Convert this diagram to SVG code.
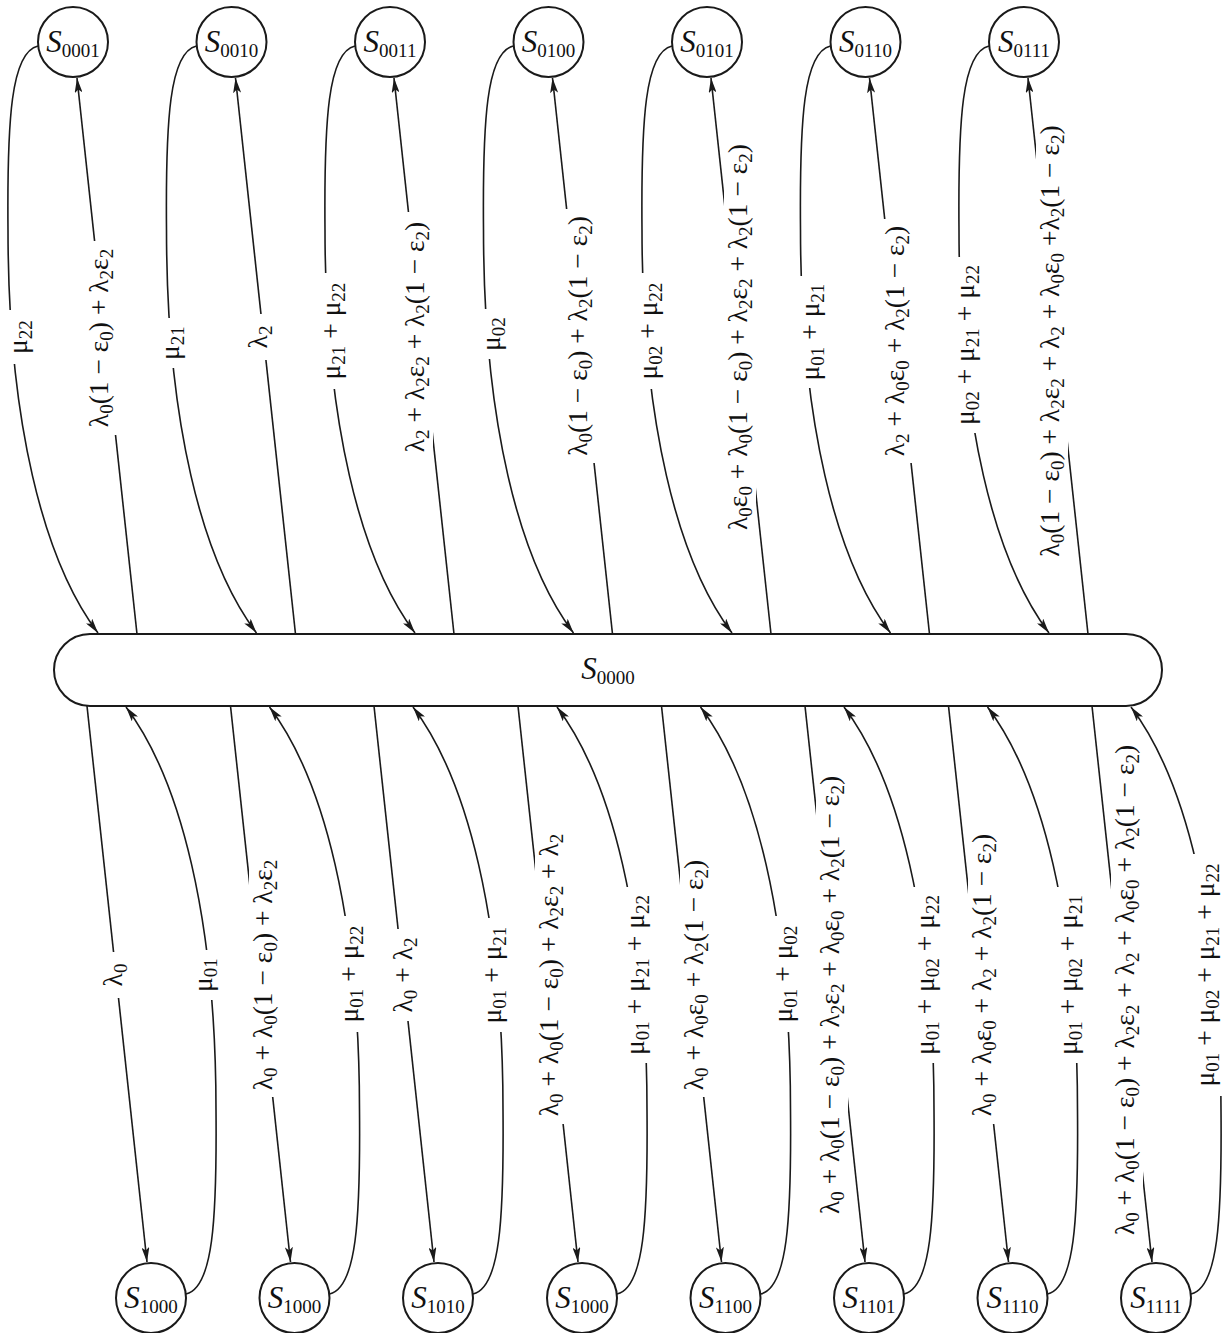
<svg xmlns="http://www.w3.org/2000/svg" width="1223" height="1333" viewBox="0 0 1223 1333">
<style>
.nd{fill:#fff;stroke:#1a1a1a;stroke-width:2}
.cn{fill:none;stroke:#1a1a1a;stroke-width:1.6;marker-end:url(#ah)}
.nl{font-family:"Liberation Serif",serif;font-style:italic;font-size:31px;fill:#111;text-anchor:middle}
.ns{font-style:normal;font-size:19px}
.lb{font-family:"Liberation Serif",serif;font-size:27.5px;fill:#111;text-anchor:middle}
.s{font-size:19px}
.bg{fill:#fff;stroke:none}
</style>
<defs>
<marker id="ah" viewBox="0 0 15 8" refX="15" refY="4" markerWidth="15" markerHeight="8" markerUnits="userSpaceOnUse" orient="auto">
<path d="M0,0 L15,4 L0,8 L3.5,4 z" fill="#1a1a1a"/>
</marker>
</defs>
<rect width="1223" height="1333" fill="#fff"/>
<g id="connectors">
<path class="cn" d="M38,46 C11,52 7,120 8,230 C8,420 43,560 98,633"/>
<path class="cn" d="M137,634 L77,78"/>
<path class="cn" d="M196.5,46 C169.5,52 165.5,120 166.5,230 C166.5,420 201.5,560 256.5,633"/>
<path class="cn" d="M295.5,634 L235.5,78"/>
<path class="cn" d="M355,46 C328,52 324,120 325,230 C325,420 360,560 415,633"/>
<path class="cn" d="M454,634 L394,78"/>
<path class="cn" d="M513.5,46 C486.5,52 482.5,120 483.5,230 C483.5,420 518.5,560 573.5,633"/>
<path class="cn" d="M612.5,634 L552.5,78"/>
<path class="cn" d="M672,46 C645,52 641,120 642,230 C642,420 677,560 732,633"/>
<path class="cn" d="M771,634 L711,78"/>
<path class="cn" d="M830.5,46 C803.5,52 799.5,120 800.5,230 C800.5,420 835.5,560 890.5,633"/>
<path class="cn" d="M929.5,634 L869.5,78"/>
<path class="cn" d="M989,46 C962,52 958,120 959,230 C959,420 994,560 1049,633"/>
<path class="cn" d="M1088,634 L1028,78"/>
<path class="cn" d="M87,706 L147,1262"/>
<path class="cn" d="M186,1294 C213,1288 217,1220 216,1110 C216,920 181,780 126,707"/>
<path class="cn" d="M230.5,706 L290.5,1262"/>
<path class="cn" d="M329.5,1294 C356.5,1288 360.5,1220 359.5,1110 C359.5,920 324.5,780 269.5,707"/>
<path class="cn" d="M374,706 L434,1262"/>
<path class="cn" d="M473,1294 C500,1288 504,1220 503,1110 C503,920 468,780 413,707"/>
<path class="cn" d="M518,706 L578,1262"/>
<path class="cn" d="M617,1294 C644,1288 648,1220 647,1110 C647,920 612,780 557,707"/>
<path class="cn" d="M661.5,706 L721.5,1262"/>
<path class="cn" d="M760.5,1294 C787.5,1288 791.5,1220 790.5,1110 C790.5,920 755.5,780 700.5,707"/>
<path class="cn" d="M805,706 L865,1262"/>
<path class="cn" d="M904,1294 C931,1288 935,1220 934,1110 C934,920 899,780 844,707"/>
<path class="cn" d="M948.5,706 L1008.5,1262"/>
<path class="cn" d="M1047.5,1294 C1074.5,1288 1078.5,1220 1077.5,1110 C1077.5,920 1042.5,780 987.5,707"/>
<path class="cn" d="M1092,706 L1152,1262"/>
<path class="cn" d="M1191,1294 C1218,1288 1222,1220 1221,1110 C1221,920 1186,780 1131,707"/>
</g>
<g id="edge-labels">
<g transform="translate(20,337) rotate(-90)"><rect class="bg" x="-27" y="-16" width="54" height="32"/><text class="lb" y="6.5">μ<tspan class="s" dy="5.5">22</tspan></text></g>
<g transform="translate(101,338) rotate(-90)"><rect class="bg" x="-97" y="-16" width="194" height="32"/><text class="lb" y="6.5">λ<tspan class="s" dy="5.5">0</tspan><tspan dy="-5.5">(1 − ε</tspan><tspan class="s" dy="5.5">0</tspan><tspan dy="-5.5">) + λ</tspan><tspan class="s" dy="5.5">2</tspan><tspan dy="-5.5">ε</tspan><tspan class="s" dy="5.5">2</tspan></text></g>
<g transform="translate(172,343) rotate(-90)"><rect class="bg" x="-25" y="-16" width="50" height="32"/><text class="lb" y="6.5">μ<tspan class="s" dy="5.5">21</tspan></text></g>
<g transform="translate(260,337) rotate(-90)"><rect class="bg" x="-23" y="-16" width="46" height="32"/><text class="lb" y="6.5">λ<tspan class="s" dy="5.5">2</tspan></text></g>
<g transform="translate(333,331) rotate(-90)"><rect class="bg" x="-58" y="-16" width="116" height="32"/><text class="lb" y="6.5">μ<tspan class="s" dy="5.5">21</tspan><tspan dy="-5.5"> + μ</tspan><tspan class="s" dy="5.5">22</tspan></text></g>
<g transform="translate(417,337) rotate(-90)"><rect class="bg" x="-125" y="-16" width="250" height="32"/><text class="lb" y="6.5">λ<tspan class="s" dy="5.5">2</tspan><tspan dy="-5.5"> + λ</tspan><tspan class="s" dy="5.5">2</tspan><tspan dy="-5.5">ε</tspan><tspan class="s" dy="5.5">2</tspan><tspan dy="-5.5"> + λ</tspan><tspan class="s" dy="5.5">2</tspan><tspan dy="-5.5">(1 − ε</tspan><tspan class="s" dy="5.5">2</tspan><tspan dy="-5.5">)</tspan></text></g>
<g transform="translate(493,334) rotate(-90)"><rect class="bg" x="-25" y="-16" width="50" height="32"/><text class="lb" y="6.5">μ<tspan class="s" dy="5.5">02</tspan></text></g>
<g transform="translate(580,336) rotate(-90)"><rect class="bg" x="-127" y="-16" width="254" height="32"/><text class="lb" y="6.5">λ<tspan class="s" dy="5.5">0</tspan><tspan dy="-5.5">(1 − ε</tspan><tspan class="s" dy="5.5">0</tspan><tspan dy="-5.5">) + λ</tspan><tspan class="s" dy="5.5">2</tspan><tspan dy="-5.5">(1 − ε</tspan><tspan class="s" dy="5.5">2</tspan><tspan dy="-5.5">)</tspan></text></g>
<g transform="translate(650,331) rotate(-90)"><rect class="bg" x="-58" y="-16" width="116" height="32"/><text class="lb" y="6.5">μ<tspan class="s" dy="5.5">02</tspan><tspan dy="-5.5"> + μ</tspan><tspan class="s" dy="5.5">22</tspan></text></g>
<g transform="translate(740,337) rotate(-90)"><rect class="bg" x="-198" y="-16" width="396" height="32"/><text class="lb" y="6.5">λ<tspan class="s" dy="5.5">0</tspan><tspan dy="-5.5">ε</tspan><tspan class="s" dy="5.5">0</tspan><tspan dy="-5.5"> + λ</tspan><tspan class="s" dy="5.5">0</tspan><tspan dy="-5.5">(1 − ε</tspan><tspan class="s" dy="5.5">0</tspan><tspan dy="-5.5">) + λ</tspan><tspan class="s" dy="5.5">2</tspan><tspan dy="-5.5">ε</tspan><tspan class="s" dy="5.5">2</tspan><tspan dy="-5.5"> + λ</tspan><tspan class="s" dy="5.5">2</tspan><tspan dy="-5.5">(1 − ε</tspan><tspan class="s" dy="5.5">2</tspan><tspan dy="-5.5">)</tspan></text></g>
<g transform="translate(812,332) rotate(-90)"><rect class="bg" x="-56" y="-16" width="112" height="32"/><text class="lb" y="6.5">μ<tspan class="s" dy="5.5">01</tspan><tspan dy="-5.5"> + μ</tspan><tspan class="s" dy="5.5">21</tspan></text></g>
<g transform="translate(897,341) rotate(-90)"><rect class="bg" x="-122" y="-16" width="244" height="32"/><text class="lb" y="6.5">λ<tspan class="s" dy="5.5">2</tspan><tspan dy="-5.5"> + λ</tspan><tspan class="s" dy="5.5">0</tspan><tspan dy="-5.5">ε</tspan><tspan class="s" dy="5.5">0</tspan><tspan dy="-5.5"> + λ</tspan><tspan class="s" dy="5.5">2</tspan><tspan dy="-5.5">(1 − ε</tspan><tspan class="s" dy="5.5">2</tspan><tspan dy="-5.5">)</tspan></text></g>
<g transform="translate(967,345) rotate(-90)"><rect class="bg" x="-88" y="-16" width="176" height="32"/><text class="lb" y="6.5">μ<tspan class="s" dy="5.5">02</tspan><tspan dy="-5.5"> + μ</tspan><tspan class="s" dy="5.5">21</tspan><tspan dy="-5.5"> + μ</tspan><tspan class="s" dy="5.5">22</tspan></text></g>
<g transform="translate(1052,341) rotate(-90)"><rect class="bg" x="-224" y="-16" width="448" height="32"/><text class="lb" y="6.5">λ<tspan class="s" dy="5.5">0</tspan><tspan dy="-5.5">(1 − ε</tspan><tspan class="s" dy="5.5">0</tspan><tspan dy="-5.5">) + λ</tspan><tspan class="s" dy="5.5">2</tspan><tspan dy="-5.5">ε</tspan><tspan class="s" dy="5.5">2</tspan><tspan dy="-5.5"> + λ</tspan><tspan class="s" dy="5.5">2</tspan><tspan dy="-5.5"> + λ</tspan><tspan class="s" dy="5.5">0</tspan><tspan dy="-5.5">ε</tspan><tspan class="s" dy="5.5">0</tspan><tspan dy="-5.5"> +λ</tspan><tspan class="s" dy="5.5">2</tspan><tspan dy="-5.5">(1 − ε</tspan><tspan class="s" dy="5.5">2</tspan><tspan dy="-5.5">)</tspan></text></g>
<g transform="translate(115,975) rotate(-90)"><rect class="bg" x="-23" y="-16" width="46" height="32"/><text class="lb" y="6.5">λ<tspan class="s" dy="5.5">0</tspan></text></g>
<g transform="translate(205,975) rotate(-90)"><rect class="bg" x="-25" y="-16" width="50" height="32"/><text class="lb" y="6.5">μ<tspan class="s" dy="5.5">01</tspan></text></g>
<g transform="translate(265,975) rotate(-90)"><rect class="bg" x="-122" y="-16" width="244" height="32"/><text class="lb" y="6.5">λ<tspan class="s" dy="5.5">0</tspan><tspan dy="-5.5"> + λ</tspan><tspan class="s" dy="5.5">0</tspan><tspan dy="-5.5">(1 − ε</tspan><tspan class="s" dy="5.5">0</tspan><tspan dy="-5.5">) + λ</tspan><tspan class="s" dy="5.5">2</tspan><tspan dy="-5.5">ε</tspan><tspan class="s" dy="5.5">2</tspan></text></g>
<g transform="translate(351,974) rotate(-90)"><rect class="bg" x="-58" y="-16" width="116" height="32"/><text class="lb" y="6.5">μ<tspan class="s" dy="5.5">01</tspan><tspan dy="-5.5"> + μ</tspan><tspan class="s" dy="5.5">22</tspan></text></g>
<g transform="translate(405,975) rotate(-90)"><rect class="bg" x="-46" y="-16" width="92" height="32"/><text class="lb" y="6.5">λ<tspan class="s" dy="5.5">0</tspan><tspan dy="-5.5"> + λ</tspan><tspan class="s" dy="5.5">2</tspan></text></g>
<g transform="translate(494,975) rotate(-90)"><rect class="bg" x="-57" y="-16" width="114" height="32"/><text class="lb" y="6.5">μ<tspan class="s" dy="5.5">01</tspan><tspan dy="-5.5"> + μ</tspan><tspan class="s" dy="5.5">21</tspan></text></g>
<g transform="translate(551,975) rotate(-90)"><rect class="bg" x="-149" y="-16" width="298" height="32"/><text class="lb" y="6.5">λ<tspan class="s" dy="5.5">0</tspan><tspan dy="-5.5"> + λ</tspan><tspan class="s" dy="5.5">0</tspan><tspan dy="-5.5">(1 − ε</tspan><tspan class="s" dy="5.5">0</tspan><tspan dy="-5.5">) + λ</tspan><tspan class="s" dy="5.5">2</tspan><tspan dy="-5.5">ε</tspan><tspan class="s" dy="5.5">2</tspan><tspan dy="-5.5"> + λ</tspan><tspan class="s" dy="5.5">2</tspan></text></g>
<g transform="translate(637,975) rotate(-90)"><rect class="bg" x="-88" y="-16" width="176" height="32"/><text class="lb" y="6.5">μ<tspan class="s" dy="5.5">01</tspan><tspan dy="-5.5"> + μ</tspan><tspan class="s" dy="5.5">21</tspan><tspan dy="-5.5"> + μ</tspan><tspan class="s" dy="5.5">22</tspan></text></g>
<g transform="translate(696,975) rotate(-90)"><rect class="bg" x="-122" y="-16" width="244" height="32"/><text class="lb" y="6.5">λ<tspan class="s" dy="5.5">0</tspan><tspan dy="-5.5"> + λ</tspan><tspan class="s" dy="5.5">0</tspan><tspan dy="-5.5">ε</tspan><tspan class="s" dy="5.5">0</tspan><tspan dy="-5.5"> + λ</tspan><tspan class="s" dy="5.5">2</tspan><tspan dy="-5.5">(1 − ε</tspan><tspan class="s" dy="5.5">2</tspan><tspan dy="-5.5">)</tspan></text></g>
<g transform="translate(785,974) rotate(-90)"><rect class="bg" x="-58" y="-16" width="116" height="32"/><text class="lb" y="6.5">μ<tspan class="s" dy="5.5">01</tspan><tspan dy="-5.5"> + μ</tspan><tspan class="s" dy="5.5">02</tspan></text></g>
<g transform="translate(832,995) rotate(-90)"><rect class="bg" x="-224" y="-16" width="448" height="32"/><text class="lb" y="6.5">λ<tspan class="s" dy="5.5">0</tspan><tspan dy="-5.5"> + λ</tspan><tspan class="s" dy="5.5">0</tspan><tspan dy="-5.5">(1 − ε</tspan><tspan class="s" dy="5.5">0</tspan><tspan dy="-5.5">) + λ</tspan><tspan class="s" dy="5.5">2</tspan><tspan dy="-5.5">ε</tspan><tspan class="s" dy="5.5">2</tspan><tspan dy="-5.5"> + λ</tspan><tspan class="s" dy="5.5">0</tspan><tspan dy="-5.5">ε</tspan><tspan class="s" dy="5.5">0</tspan><tspan dy="-5.5"> + λ</tspan><tspan class="s" dy="5.5">2</tspan><tspan dy="-5.5">(1 − ε</tspan><tspan class="s" dy="5.5">2</tspan><tspan dy="-5.5">)</tspan></text></g>
<g transform="translate(927,975) rotate(-90)"><rect class="bg" x="-88" y="-16" width="176" height="32"/><text class="lb" y="6.5">μ<tspan class="s" dy="5.5">01</tspan><tspan dy="-5.5"> + μ</tspan><tspan class="s" dy="5.5">02</tspan><tspan dy="-5.5"> + μ</tspan><tspan class="s" dy="5.5">22</tspan></text></g>
<g transform="translate(984,975) rotate(-90)"><rect class="bg" x="-149" y="-16" width="298" height="32"/><text class="lb" y="6.5">λ<tspan class="s" dy="5.5">0</tspan><tspan dy="-5.5"> + λ</tspan><tspan class="s" dy="5.5">0</tspan><tspan dy="-5.5">ε</tspan><tspan class="s" dy="5.5">0</tspan><tspan dy="-5.5"> + λ</tspan><tspan class="s" dy="5.5">2</tspan><tspan dy="-5.5"> + λ</tspan><tspan class="s" dy="5.5">2</tspan><tspan dy="-5.5">(1 − ε</tspan><tspan class="s" dy="5.5">2</tspan><tspan dy="-5.5">)</tspan></text></g>
<g transform="translate(1070,975) rotate(-90)"><rect class="bg" x="-88" y="-16" width="176" height="32"/><text class="lb" y="6.5">μ<tspan class="s" dy="5.5">01</tspan><tspan dy="-5.5"> + μ</tspan><tspan class="s" dy="5.5">02</tspan><tspan dy="-5.5"> + μ</tspan><tspan class="s" dy="5.5">21</tspan></text></g>
<g transform="translate(1127,990) rotate(-90)"><rect class="bg" x="-246" y="-16" width="492" height="32"/><text class="lb" y="6.5">λ<tspan class="s" dy="5.5">0</tspan><tspan dy="-5.5"> + λ</tspan><tspan class="s" dy="5.5">0</tspan><tspan dy="-5.5">(1 − ε</tspan><tspan class="s" dy="5.5">0</tspan><tspan dy="-5.5">) + λ</tspan><tspan class="s" dy="5.5">2</tspan><tspan dy="-5.5">ε</tspan><tspan class="s" dy="5.5">2</tspan><tspan dy="-5.5"> + λ</tspan><tspan class="s" dy="5.5">2</tspan><tspan dy="-5.5"> + λ</tspan><tspan class="s" dy="5.5">0</tspan><tspan dy="-5.5">ε</tspan><tspan class="s" dy="5.5">0</tspan><tspan dy="-5.5"> + λ</tspan><tspan class="s" dy="5.5">2</tspan><tspan dy="-5.5">(1 − ε</tspan><tspan class="s" dy="5.5">2</tspan><tspan dy="-5.5">)</tspan></text></g>
<g transform="translate(1207,975) rotate(-90)"><rect class="bg" x="-121" y="-16" width="242" height="32"/><text class="lb" y="6.5">μ<tspan class="s" dy="5.5">01</tspan><tspan dy="-5.5"> + μ</tspan><tspan class="s" dy="5.5">02</tspan><tspan dy="-5.5"> + μ</tspan><tspan class="s" dy="5.5">21</tspan><tspan dy="-5.5"> + μ</tspan><tspan class="s" dy="5.5">22</tspan></text></g>
</g>
<g id="S0000"><rect class="nd" x="54" y="634" width="1108" height="72" rx="36" ry="36"/><text class="nl" x="608" y="679">S<tspan class="ns" dy="5">0000</tspan></text></g>
<g id="S0001"><circle class="nd" cx="73" cy="42" r="35"/><text class="nl" x="73" y="52">S<tspan class="ns" dy="5">0001</tspan></text></g>
<g id="S0010"><circle class="nd" cx="231.5" cy="42" r="35"/><text class="nl" x="231.5" y="52">S<tspan class="ns" dy="5">0010</tspan></text></g>
<g id="S0011"><circle class="nd" cx="390" cy="42" r="35"/><text class="nl" x="390" y="52">S<tspan class="ns" dy="5">0011</tspan></text></g>
<g id="S0100"><circle class="nd" cx="548.5" cy="42" r="35"/><text class="nl" x="548.5" y="52">S<tspan class="ns" dy="5">0100</tspan></text></g>
<g id="S0101"><circle class="nd" cx="707" cy="42" r="35"/><text class="nl" x="707" y="52">S<tspan class="ns" dy="5">0101</tspan></text></g>
<g id="S0110"><circle class="nd" cx="865.5" cy="42" r="35"/><text class="nl" x="865.5" y="52">S<tspan class="ns" dy="5">0110</tspan></text></g>
<g id="S0111"><circle class="nd" cx="1024" cy="42" r="35"/><text class="nl" x="1024" y="52">S<tspan class="ns" dy="5">0111</tspan></text></g>
<g id="S1000a"><circle class="nd" cx="151" cy="1298" r="35"/><text class="nl" x="151" y="1308">S<tspan class="ns" dy="5">1000</tspan></text></g>
<g id="S1000b"><circle class="nd" cx="294.5" cy="1298" r="35"/><text class="nl" x="294.5" y="1308">S<tspan class="ns" dy="5">1000</tspan></text></g>
<g id="S1010"><circle class="nd" cx="438" cy="1298" r="35"/><text class="nl" x="438" y="1308">S<tspan class="ns" dy="5">1010</tspan></text></g>
<g id="S1000c"><circle class="nd" cx="582" cy="1298" r="35"/><text class="nl" x="582" y="1308">S<tspan class="ns" dy="5">1000</tspan></text></g>
<g id="S1100"><circle class="nd" cx="725.5" cy="1298" r="35"/><text class="nl" x="725.5" y="1308">S<tspan class="ns" dy="5">1100</tspan></text></g>
<g id="S1101"><circle class="nd" cx="869" cy="1298" r="35"/><text class="nl" x="869" y="1308">S<tspan class="ns" dy="5">1101</tspan></text></g>
<g id="S1110"><circle class="nd" cx="1012.5" cy="1298" r="35"/><text class="nl" x="1012.5" y="1308">S<tspan class="ns" dy="5">1110</tspan></text></g>
<g id="S1111"><circle class="nd" cx="1156" cy="1298" r="35"/><text class="nl" x="1156" y="1308">S<tspan class="ns" dy="5">1111</tspan></text></g>
</svg>
